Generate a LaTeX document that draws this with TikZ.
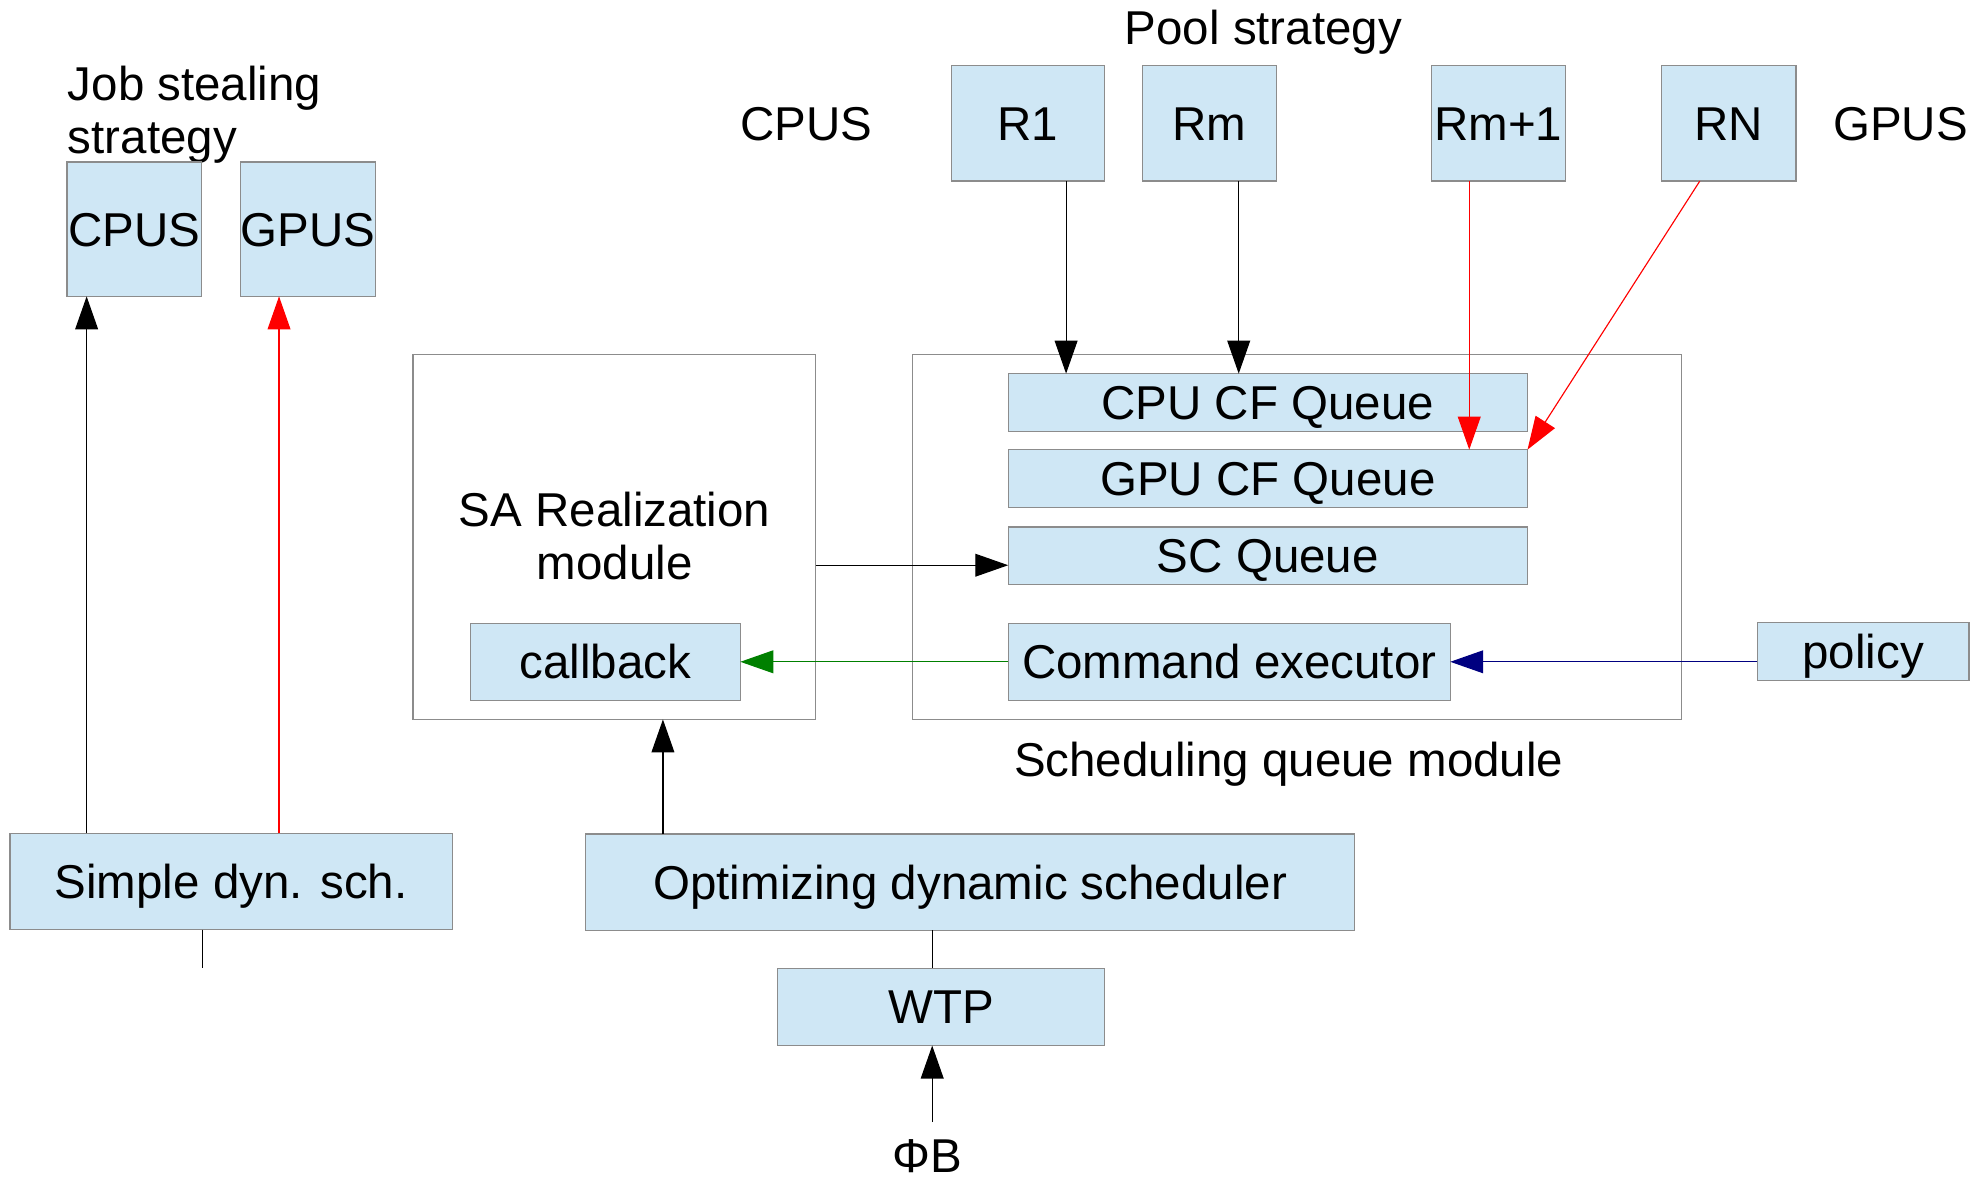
\documentclass[tikz,border=0pt]{standalone}
\usepackage{fontspec}
\setmainfont{Liberation Sans}
\usetikzlibrary{arrows.meta}
\definecolor{boxfill}{HTML}{CFE7F5}
\definecolor{boxline}{RGB}{140,140,140}
\definecolor{navyline}{RGB}{0,0,128}
\definecolor{greenline}{RGB}{0,128,0}

\begin{document}
\begin{tikzpicture}[x=1pt,y=-1pt,
  every node/.style={font=\fontsize{37.5}{42.4}\selectfont, inner sep=0pt, outer sep=0pt},
  lbl/.style={text height=26.9pt, text depth=0pt},
  blk/.style={draw=boxline, line width=1pt, fill=boxfill, anchor=north west,
              text height=26.9pt, text depth=0pt},
  frame/.style={draw=boxline, line width=1pt, anchor=north west},
  conn/.style={line width=0.9pt},
  arr/.style={conn, -{Triangle[length=26pt,width=18pt]}},
]
\useasboundingbox (0,0) rectangle (1568,929);

% --- job stealing strategy (left) ---
\node[anchor=west, align=left] (jstitle) at (53.6,90.5) {Job stealing\\strategy};
\node[blk, minimum width=106pt, minimum height=106pt] (cpusL) at (53,128) {CPUS};
\node[blk, minimum width=106pt, minimum height=106pt] (gpusL) at (190,128) {GPUS};
\node[blk, minimum width=349pt, minimum height=76pt] (simple) at (8,658) {Simple dyn. sch.};

% --- pool strategy (top) ---
\node[lbl] (pooltitle) at (997.5,21.7) {Pool strategy};
\node[lbl] (cpusT) at (636.5,97.5) {CPUS};
\node[lbl] (gpusT) at (1500.5,97.5) {GPUS};
\node[blk, minimum width=121pt, minimum height=91pt] (r1) at (751,52) {R1};
\node[blk, minimum width=106pt, minimum height=91pt] (rm) at (902,52) {Rm};
\node[blk, minimum width=106pt, minimum height=91pt] (rm1) at (1130,52) {Rm+1};
\node[blk, minimum width=106pt, minimum height=91pt] (rn) at (1312,52) {RN};

% --- SA realization module ---
\node[frame, minimum width=318pt, minimum height=288pt] (sa) at (326,280) {};
\node[align=center] (satext) at (485.3,423.2) {SA Realization\\module};
\node[blk, minimum width=213pt, minimum height=61pt] (cb) at (371.5,492) {callback};

% --- scheduling queue module ---
\node[frame, minimum width=607pt, minimum height=288pt] (sq) at (720.5,280) {};
\node[lbl] (sqtitle) at (1017.5,600) {Scheduling queue module};
\node[blk, minimum width=410pt, minimum height=45.5pt] (cpuq) at (796,295) {CPU CF Queue};
\node[blk, minimum width=410pt, minimum height=45.5pt] (gpuq) at (796,355) {GPU CF Queue};
\node[blk, minimum width=410pt, minimum height=45.5pt] (scq) at (796,416) {SC Queue};
\node[blk, minimum width=349pt, minimum height=61pt] (cmd) at (796,492) {Command executor};
\node[blk, minimum width=167pt, minimum height=45.5pt] (policy) at (1387.5,491.5) {policy};

% --- schedulers (bottom) ---
\node[blk, minimum width=607pt, minimum height=76pt] (opt) at (462.5,658.5) {Optimizing dynamic scheduler};
\node[blk, minimum width=258pt, minimum height=61pt] (wtp) at (614,764.5) {WTP};
\node[lbl] (phib) at (732,912) {ΦB};

% --- connectors: job stealing ---
\coordinate (a1) at ([xshift=15.4pt]cpusL.south west);
\draw[arr] (simple.north -| a1) -- (a1);
\coordinate (a2) at ([xshift=30.3pt]gpusL.south west);
\draw[arr, red] (simple.north -| a2) -- (a2);
\coordinate (a3) at ([xshift=151.6pt]simple.south west);
\coordinate (a3end) at ([yshift=-30.3pt]a3);
\draw[conn] (a3) -- (a3end);

% --- connectors: pool strategy ---
\coordinate (b1) at ([xshift=90.7pt]r1.south west);
\draw[arr] (b1) -- (b1 |- cpuq.north);
\coordinate (b2) at ([xshift=76pt]rm.south west);
\draw[arr] (b2) -- (b2 |- cpuq.north);
\coordinate (b3) at ([xshift=30pt]rm1.south west);
\draw[arr, red] (b3) -- (b3 |- gpuq.north);
\coordinate (b4) at ([xshift=30pt]rn.south west);
\draw[arr, red] (b4) -- (gpuq.north east);

% --- connectors: modules ---
\coordinate (c1) at ([yshift=-7.5pt]scq.west);
\draw[arr] (sa.east |- c1) -- (c1);
\draw[arr, greenline] (cmd.west) -- (cb.east);
\draw[arr, navyline] (policy.west |- cmd.east) -- (cmd.east);

% --- connectors: schedulers ---
\coordinate (d1) at ([xshift=60.9pt]opt.north west);
\draw[arr] (d1) -- (d1 |- sa.south);
\coordinate (e1) at ([xshift=273.5pt]opt.south west);
\draw[conn] (e1) -- (e1 |- wtp.north);
\coordinate (f0) at (736,886);
\draw[arr] (f0) -- (f0 |- wtp.south);
\end{tikzpicture}
\end{document}
